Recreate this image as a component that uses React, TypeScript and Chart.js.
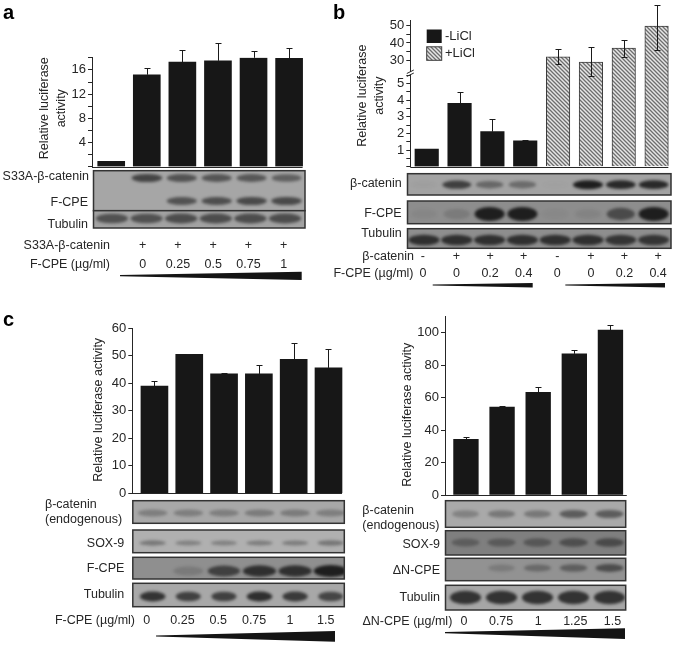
import React, { useEffect, useRef } from "react";
import { Chart, registerables, LinearScale, CategoryScale } from "chart.js";

// ---------- data: panel a ----------
const aBarLabels = ["ctrl", "0", "0.25", "0.5", "0.75", "1"];
const aValues = [0.9, 15.2, 17.3, 17.5, 18.0, 17.9];
const aErrHigh = [0.95, 16.3, 19.3, 20.4, 19.1, 19.6];
const aTicks = [0, 2, 4, 6, 8, 10, 12, 14, 16, 18];
const aTickLabels = [4, 8, 12, 16];
const aPlus = ["+", "+", "+", "+", "+"];
const aDoses = ["0", "0.25", "0.5", "0.75", "1"];
const aBandCatenin = [0, 0.72, 0.62, 0.6, 0.58, 0.52];
const aBandFcpe = [0, 0, 0.62, 0.65, 0.68, 0.68];
const aBandTubulin = [0.62, 0.62, 0.65, 0.65, 0.65, 0.65];

// ---------- data: panel b ----------
const bBarLabels = ["-", "+", "+", "+", "- LiCl", "+ LiCl", "+ LiCl", "+ LiCl"];
const bMinusValues = [1.05, 3.8, 2.1, 1.55];
const bMinusErrHigh = [1.08, 4.46, 2.84, 1.62];
const bPlusValues = [32, 29, 37, 49.8];
const bPlusErrHigh = [36.4, 37.5, 41.7, 62.1];
const bPlusErrLow = [27.7, 20.8, 32, 35.8];
const bTicks = [0, 0.5, 1, 1.5, 2, 2.5, 3, 3.5, 4, 4.5, 5, 5.5, 30, 35, 40, 45, 50];
const bTickLabels = [1, 2, 3, 4, 5, 30, 40, 50];
const bSigns = ["-", "+", "+", "+", "-", "+", "+", "+"];
const bDoses = ["0", "0", "0.2", "0.4", "0", "0", "0.2", "0.4"];
const bBandCatenin = [0.03, 0.75, 0.45, 0.42, 0.02, 1, 0.92, 0.92];
const bBandFcpe = [0.06, 0.16, 1, 1, 0.04, 0.08, 0.6, 1];
const bBandTubulin = [0.85, 0.85, 0.85, 0.85, 0.85, 0.85, 0.8, 0.8];

// ---------- data: panel c left ----------
const cDoses = ["0", "0.25", "0.5", "0.75", "1", "1.5"];
const cValues = [39, 50.5, 43.4, 43.4, 48.7, 45.6];
const cErrHigh = [40.7, 50.8, 43.9, 46.5, 54.7, 52.5];
const cTicks = [0, 10, 20, 30, 40, 50, 60];
const cBandCatenin = [0.3, 0.3, 0.3, 0.33, 0.33, 0.3];
const cBandSox = [0.38, 0.32, 0.32, 0.35, 0.35, 0.4];
const cBandFcpe = [0, 0.18, 0.7, 0.85, 0.85, 1];
const cBandTubulin = [0.85, 0.75, 0.75, 0.88, 0.8, 0.72];

// ---------- data: panel c right ----------
const dDoses = ["0", "0.75", "1", "1.25", "1.5"];
const dValues = [34.3, 54.2, 63.3, 87, 101.6];
const dErrHigh = [35.6, 54.9, 66.7, 89.1, 104.5];
const dTicks = [0, 20, 40, 60, 80, 100];
const dBandCatenin = [0.28, 0.35, 0.35, 0.55, 0.55];
const dBandSox = [0.35, 0.38, 0.42, 0.5, 0.55];
const dBandDelta = [0, 0.2, 0.35, 0.45, 0.6];
const dBandTubulin = [0.85, 0.85, 0.85, 0.85, 0.85];

// ---------- styling and layout ----------
const W = 675;
const H = 645;
const FONT = '"Liberation Sans", Arial, sans-serif';
const INK = "#262626";

type Txt = { t: string; x: number; y: number; a?: CanvasTextAlign; bold?: boolean; s?: number };
type Row = { y: number; h: number; w: number; x0: number; dx: number; v: number[] };
type Blot = { x0: number; x1: number; y0: number; y1: number; bg: string; rows: Row[] };
type Wedge = [number, number, number, number, number];

function seq(items: string[], x0: number, dx: number, y: number): Txt[] {
  return items.map((t, i) => ({ t, x: x0 + i * dx, y, a: "center" as CanvasTextAlign }));
}

class PanelLinear extends LinearScale {
  static id = "panelLinear";
  static defaults = {};
  drawTitle() {
    const shift = (this.options as any).titleShift || 0;
    this.ctx.save();
    this.ctx.translate(0, shift);
    (LinearScale.prototype as any).drawTitle.call(this);
    this.ctx.restore();
  }
}

// y axis with a break between the low range and the 30-50 range
const BREAK_AT = 5.6;
const LOW_UNIT = 16.67;
const HIGH_UNIT = 1.73;
const HIGH_REF = 30;
const HIGH_REF_OFFSET = 106.4;
class BrokenLinear extends PanelLinear {
  static id = "brokenLinear";
  static defaults = {};
  getPixelForValue(v: number) {
    if (v === null || v === undefined || isNaN(v)) return NaN;
    if (v <= BREAK_AT) return this.bottom - v * LOW_UNIT;
    return this.bottom - HIGH_REF_OFFSET - (v - HIGH_REF) * HIGH_UNIT;
  }
}

class LaneScale extends CategoryScale {
  static id = "lanes";
  static defaults = {};
  configure() {
    super.configure();
    const lead = (this.options as any).lead || 0;
    (this as any)._startValue -= lead;
    (this as any)._valueRange += lead;
  }
}

Chart.register(...registerables, PanelLinear, BrokenLinear, LaneScale);

function hatchPattern(): CanvasPattern | string {
  const c = document.createElement("canvas");
  c.width = 4;
  c.height = 4;
  const g = c.getContext("2d");
  if (!g) return "#bbb";
  g.fillStyle = "#e6e6e6";
  g.fillRect(0, 0, 4, 4);
  g.strokeStyle = "#6e6e6e";
  g.lineWidth = 1.3;
  g.beginPath();
  g.moveTo(-1, -1);
  g.lineTo(5, 5);
  g.moveTo(-1, 3);
  g.lineTo(1, 5);
  g.moveTo(3, -1);
  g.lineTo(5, 1);
  g.stroke();
  return g.createPattern(c, "repeat") || "#bbb";
}

type Panel = {
  labels: string[];
  datasets: (p: CanvasPattern | string) => any[];
  errors: { ds: number; high: number[]; low?: number[] }[];
  left: number;
  right: number;
  top: number;
  bottom: number;
  lead: number;
  thickness: number;
  yMax: number;
  ticks: number[];
  tickLabels: number[];
  yType: string;
  title: string[];
  titleX: number;
  titleShift: number;
  overhang: number;
  blots: Blot[];
  texts: Txt[];
  wedges: Wedge[];
  legend?: boolean;
  axisBreak?: boolean;
};

const black = "#171717";
const soloDataset = (label: string, data: number[]) => () => [
  { label, data, backgroundColor: black, borderWidth: 0 },
];

const panels: Panel[] = [
  {
    labels: aBarLabels,
    datasets: soloDataset("Relative luciferase activity", aValues),
    errors: [{ ds: 0, high: aErrHigh }],
    left: 92,
    right: 306.9,
    top: 57.8,
    bottom: 166.7,
    lead: 0.02,
    thickness: 27,
    yMax: 18,
    ticks: aTicks,
    tickLabels: aTickLabels,
    yType: "panelLinear",
    title: ["Relative luciferase", "activity"],
    titleX: 45,
    titleShift: -4,
    overhang: 0,
    blots: [
      {
        x0: 93.5, x1: 305, y0: 170.7, y1: 210.7, bg: "#a6a6a6",
        rows: [
          { y: 178, h: 9, w: 32, x0: 112, dx: 34.9, v: aBandCatenin },
          { y: 201, h: 9, w: 32, x0: 112, dx: 34.9, v: aBandFcpe },
        ],
      },
      {
        x0: 93.5, x1: 305, y0: 210.7, y1: 228, bg: "#a2a2a2",
        rows: [{ y: 218.5, h: 11, w: 34, x0: 112, dx: 34.6, v: aBandTubulin }],
      },
    ],
    texts: [
      { t: "a", x: 3, y: 13, a: "left", bold: true, s: 20 },
      { t: "S33A-β-catenin", x: 89, y: 177, a: "right" },
      { t: "F-CPE", x: 88, y: 202.5, a: "right" },
      { t: "Tubulin", x: 88, y: 224.5, a: "right" },
      { t: "S33A-β-catenin", x: 110, y: 246, a: "right" },
      { t: "F-CPE (µg/ml)", x: 110, y: 265, a: "right" },
      ...seq(aPlus, 142.7, 35.25, 246),
      ...seq(aDoses, 142.7, 35.25, 265),
    ],
    wedges: [[120, 301.7, 275.6, 271.8, 280]],
  },
  {
    labels: bBarLabels,
    datasets: (hatch) => [
      { label: "-LiCl", data: [...bMinusValues, null, null, null, null], backgroundColor: black, borderWidth: 0 },
      {
        label: "+LiCl",
        data: [null, null, null, null, ...bPlusValues],
        backgroundColor: hatch,
        borderColor: "#3c3c3c",
        borderWidth: 1,
      },
    ],
    errors: [
      { ds: 0, high: bMinusErrHigh },
      { ds: 1, high: bPlusErrHigh, low: bPlusErrLow },
    ],
    left: 410.3,
    right: 673,
    top: 20.7,
    bottom: 166.7,
    lead: 0,
    thickness: 23.5,
    yMax: 52.7,
    ticks: bTicks,
    tickLabels: bTickLabels,
    yType: "brokenLinear",
    title: ["Relative luciferase", "activity"],
    titleX: 363,
    titleShift: 2,
    overhang: 0,
    legend: true,
    axisBreak: true,
    blots: [
      {
        x0: 407.5, x1: 671, y0: 173.7, y1: 195, bg: "#a3a3a3",
        rows: [{ y: 184.7, h: 9, w: 30, x0: 424, dx: 32.8, v: bBandCatenin }],
      },
      {
        x0: 407.5, x1: 671, y0: 201, y1: 223.7, bg: "#8d8d8d",
        rows: [{ y: 214, h: 14, w: 30, x0: 424, dx: 32.8, v: bBandFcpe }],
      },
      {
        x0: 407.5, x1: 671, y0: 228.7, y1: 248.3, bg: "#8e8e8e",
        rows: [{ y: 240, h: 11, w: 32, x0: 424, dx: 32.8, v: bBandTubulin }],
      },
    ],
    texts: [
      { t: "b", x: 333, y: 13, a: "left", bold: true, s: 20 },
      { t: "β-catenin", x: 401.7, y: 184, a: "right" },
      { t: "F-CPE", x: 401.7, y: 214, a: "right" },
      { t: "Tubulin", x: 401.7, y: 234, a: "right" },
      { t: "β-catenin", x: 414, y: 257, a: "right" },
      { t: "F-CPE (µg/ml)", x: 413.5, y: 274, a: "right" },
      ...seq(bSigns, 422.9, 33.6, 257),
      ...seq(bDoses, 422.9, 33.6, 274),
    ],
    wedges: [
      [432.7, 532.7, 285, 283, 287.5],
      [565.3, 665, 285, 283, 287.5],
    ],
  },
  {
    labels: cDoses,
    datasets: soloDataset("Relative luciferase activity", cValues),
    errors: [{ ds: 0, high: cErrHigh }],
    left: 132.3,
    right: 345.9,
    top: 328.3,
    bottom: 493.3,
    lead: 0.068,
    thickness: 27,
    yMax: 60,
    ticks: cTicks,
    tickLabels: cTicks,
    yType: "panelLinear",
    title: ["Relative luciferase activity"],
    titleX: 99,
    titleShift: -1,
    overhang: 0,
    blots: [
      {
        x0: 132.8, x1: 344.3, y0: 500.7, y1: 523.3, bg: "#a8a8a8",
        rows: [{ y: 513, h: 9, w: 33, x0: 152.7, dx: 35.6, v: cBandCatenin }],
      },
      {
        x0: 132.8, x1: 344.3, y0: 530, y1: 552.7, bg: "#b0b0b0",
        rows: [{ y: 543, h: 6.5, w: 29, x0: 152.7, dx: 35.6, v: cBandSox }],
      },
      {
        x0: 132.8, x1: 344.3, y0: 557.3, y1: 579, bg: "#8f8f8f",
        rows: [{ y: 571, h: 12, w: 34, x0: 152.7, dx: 35.6, v: cBandFcpe }],
      },
      {
        x0: 132.8, x1: 344.3, y0: 583.3, y1: 606.7, bg: "#a8a8a8",
        rows: [{ y: 596.5, h: 10.5, w: 26, x0: 152.7, dx: 35.6, v: cBandTubulin }],
      },
    ],
    texts: [
      { t: "c", x: 3, y: 320, a: "left", bold: true, s: 20 },
      { t: "β-catenin", x: 45, y: 504.5, a: "left" },
      { t: "(endogenous)", x: 45, y: 520, a: "left" },
      { t: "SOX-9", x: 124.3, y: 544, a: "right" },
      { t: "F-CPE", x: 124.3, y: 568.7, a: "right" },
      { t: "Tubulin", x: 124.3, y: 594.3, a: "right" },
      { t: "F-CPE (µg/ml)", x: 135, y: 620.7, a: "right" },
      ...seq(cDoses, 146.7, 35.8, 620.7),
    ],
    wedges: [[156, 335, 636, 631, 641.7]],
  },
  {
    labels: dDoses,
    datasets: soloDataset("Relative luciferase activity", dValues),
    errors: [{ ds: 0, high: dErrHigh }],
    left: 445,
    right: 628.5,
    top: 316.5,
    bottom: 495,
    lead: 0.04,
    thickness: 24.7,
    yMax: 110,
    ticks: dTicks,
    tickLabels: dTicks,
    yType: "panelLinear",
    title: ["Relative luciferase activity"],
    titleX: 408,
    titleShift: 9,
    overhang: 4,
    blots: [
      {
        x0: 445.5, x1: 625.7, y0: 500.7, y1: 527.3, bg: "#a9a9a9",
        rows: [{ y: 514, h: 9.5, w: 30, x0: 465.5, dx: 36, v: dBandCatenin }],
      },
      {
        x0: 445.5, x1: 625.7, y0: 530.7, y1: 555, bg: "#7f7f7f",
        rows: [{ y: 542.5, h: 10, w: 31, x0: 465.5, dx: 36, v: dBandSox }],
      },
      {
        x0: 445.5, x1: 625.7, y0: 558.3, y1: 580.7, bg: "#929292",
        rows: [{ y: 568, h: 9, w: 30, x0: 465.5, dx: 36, v: dBandDelta }],
      },
      {
        x0: 445.5, x1: 625.7, y0: 585.3, y1: 610, bg: "#a6a6a6",
        rows: [{ y: 597.5, h: 14, w: 32, x0: 465.5, dx: 36, v: dBandTubulin }],
      },
    ],
    texts: [
      { t: "β-catenin", x: 362.3, y: 510.3, a: "left" },
      { t: "(endogenous)", x: 362.3, y: 525.3, a: "left" },
      { t: "SOX-9", x: 440, y: 544.3, a: "right" },
      { t: "ΔN-CPE", x: 440, y: 570.7, a: "right" },
      { t: "Tubulin", x: 440, y: 597.3, a: "right" },
      { t: "ΔN-CPE (µg/ml)", x: 452.3, y: 621.7, a: "right" },
      ...seq(dDoses, 464, 37.1, 621.7),
    ],
    wedges: [[445, 625, 632.7, 628.3, 639]],
  },
];

function makePlugin(panel: Panel) {
  return {
    id: "panelExtras",
    afterDatasetsDraw(chart: any) {
      const { ctx } = chart;
      const y = chart.scales.y;
      ctx.save();

      // baseline along the bars
      const metas = chart.getSortedVisibleDatasetMetas();
      const lastMeta = metas[metas.length - 1];
      const lastBar = lastMeta.data[lastMeta.data.length - 1];
      const baseY = Math.round(y.getPixelForValue(0)) + 0.5;
      ctx.strokeStyle = INK;
      ctx.lineWidth = 1;
      ctx.beginPath();
      ctx.moveTo(panel.left, baseY);
      ctx.lineTo(lastBar.x + panel.thickness / 2 + panel.overhang, baseY);
      ctx.stroke();

      // error bars
      ctx.strokeStyle = "#1a1a1a";
      panel.errors.forEach((e) => {
        const meta = chart.getDatasetMeta(e.ds);
        const values = chart.data.datasets[e.ds].data;
        let k = 0;
        values.forEach((val: number | null, i: number) => {
          if (val === null) return;
          const x = Math.round(meta.data[i].x) + 0.5;
          const yHigh = Math.round(y.getPixelForValue(e.high[k])) + 0.5;
          const yLow = y.getPixelForValue(e.low ? e.low[k] : val);
          ctx.beginPath();
          ctx.moveTo(x, yLow);
          ctx.lineTo(x, yHigh);
          ctx.moveTo(x - 3, yHigh);
          ctx.lineTo(x + 3, yHigh);
          if (e.low) {
            const ly = Math.round(yLow) + 0.5;
            ctx.moveTo(x - 3, ly);
            ctx.lineTo(x + 3, ly);
          }
          ctx.stroke();
          k += 1;
        });
      });
      ctx.restore();
    },
    afterDraw(chart: any) {
      const { ctx } = chart;
      ctx.save();

      // axis break
      if (panel.axisBreak) {
        const x = panel.left;
        const by = 73;
        ctx.fillStyle = "#fff";
        ctx.fillRect(x - 2, by - 1, 4, 2.5);
        ctx.strokeStyle = INK;
        ctx.lineWidth = 1;
        ctx.beginPath();
        ctx.moveTo(x - 3.5, by + 0.5);
        ctx.lineTo(x + 3.5, by - 3);
        ctx.moveTo(x - 3.5, by + 3.5);
        ctx.lineTo(x + 3.5, by);
        ctx.stroke();
      }

      // legend
      if (panel.legend) {
        const sets = chart.data.datasets;
        const boxes = [29.5, 46.8];
        sets.forEach((d: any, i: number) => {
          ctx.fillStyle = d.backgroundColor;
          ctx.fillRect(426.7, boxes[i], 15, 13.5);
          if (d.borderColor) {
            ctx.strokeStyle = d.borderColor;
            ctx.lineWidth = 1;
            ctx.strokeRect(426.7, boxes[i], 15, 13.5);
          }
          ctx.fillStyle = INK;
          ctx.font = `13px ${FONT}`;
          ctx.textAlign = "left";
          ctx.textBaseline = "middle";
          ctx.fillText(d.label, 445, boxes[i] + 7);
        });
      }

      // blots
      panel.blots.forEach((b) => {
        ctx.save();
        ctx.beginPath();
        ctx.rect(b.x0, b.y0, b.x1 - b.x0, b.y1 - b.y0);
        ctx.clip();
        ctx.fillStyle = b.bg;
        ctx.fillRect(b.x0, b.y0, b.x1 - b.x0, b.y1 - b.y0);
        ctx.filter = "blur(1.4px)";
        b.rows.forEach((r) => {
          r.v.forEach((v, i) => {
            if (v <= 0) return;
            const w = r.w * (0.85 + 0.15 * v);
            const h = r.h * (0.7 + 0.3 * v);
            ctx.fillStyle = `rgba(30,30,30,${Math.min(1, v)})`;
            ctx.beginPath();
            ctx.ellipse(r.x0 + i * r.dx, r.y, w / 2, h / 2, 0, 0, Math.PI * 2);
            ctx.fill();
          });
        });
        ctx.restore();
        ctx.strokeStyle = "#333";
        ctx.lineWidth = 1.5;
        ctx.strokeRect(b.x0, b.y0, b.x1 - b.x0, b.y1 - b.y0);
      });

      // wedges
      ctx.fillStyle = "#141414";
      panel.wedges.forEach(([x0, x1, tip, top, bottom]) => {
        ctx.beginPath();
        ctx.moveTo(x0, tip - 0.6);
        ctx.lineTo(x1, top);
        ctx.lineTo(x1, bottom);
        ctx.lineTo(x0, tip + 0.6);
        ctx.closePath();
        ctx.fill();
      });

      // labels
      ctx.fillStyle = INK;
      ctx.textBaseline = "middle";
      panel.texts.forEach((t) => {
        ctx.font = `${t.bold ? "bold " : ""}${t.s || 12.5}px ${FONT}`;
        ctx.textAlign = t.a || "left";
        ctx.fillStyle = t.bold ? "#000" : INK;
        ctx.fillText(t.t, t.x, t.y);
      });
      ctx.restore();
    },
  };
}

function PanelChart({ panel }: { panel: Panel }) {
  const ref = useRef<HTMLCanvasElement>(null);
  useEffect(() => {
    if (!ref.current) return;
    const lineHeight = 16.25;
    const chart = new Chart(ref.current, {
      type: "bar",
      data: { labels: panel.labels, datasets: panel.datasets(hatchPattern()) },
      plugins: [makePlugin(panel)],
      options: {
        responsive: false,
        animation: false,
        events: [],
        layout: {
          autoPadding: false,
          padding: { left: 0, top: panel.top, right: W - panel.right, bottom: H - panel.bottom },
        },
        plugins: { legend: { display: false }, title: { display: false }, tooltip: { enabled: false } },
        datasets: { bar: { grouped: false, barThickness: panel.thickness } },
        scales: {
          x: { type: "lanes", display: false, lead: panel.lead, offset: true, grid: { display: false } },
          y: {
            type: panel.yType,
            min: 0,
            max: panel.yMax,
            titleShift: panel.titleShift,
            afterFit: (s: any) => {
              s.width = panel.left;
            },
            afterBuildTicks: (s: any) => {
              s.ticks = panel.ticks.map((value) => ({ value }));
            },
            border: { display: true, color: INK, width: 1 },
            grid: { display: true, drawOnChartArea: false, drawTicks: true, tickLength: 4, color: INK, lineWidth: 1 },
            ticks: {
              autoSkip: false,
              padding: 2,
              color: INK,
              font: { family: FONT, size: 13 },
              callback: (v: number) => (panel.tickLabels.includes(v) ? String(v) : ""),
            },
            title: {
              display: true,
              text: panel.title,
              color: INK,
              font: { family: FONT, size: 12.5, lineHeight: lineHeight / 12.5 },
              padding: { top: panel.titleX - lineHeight / 2, bottom: 0 },
            },
          },
        },
      } as any,
    });
    return () => chart.destroy();
  }, [panel]);
  return (
    <canvas
      ref={ref}
      width={W}
      height={H}
      style={{ position: "absolute", left: 0, top: 0, width: W, height: H, display: "block" }}
    />
  );
}

export default function App() {
  return (
    <div style={{ position: "absolute", left: 0, top: 0, width: W, height: H, overflow: "hidden", background: "#fff" }}>
      {panels.map((p, i) => (
        <PanelChart key={i} panel={p} />
      ))}
    </div>
  );
}
